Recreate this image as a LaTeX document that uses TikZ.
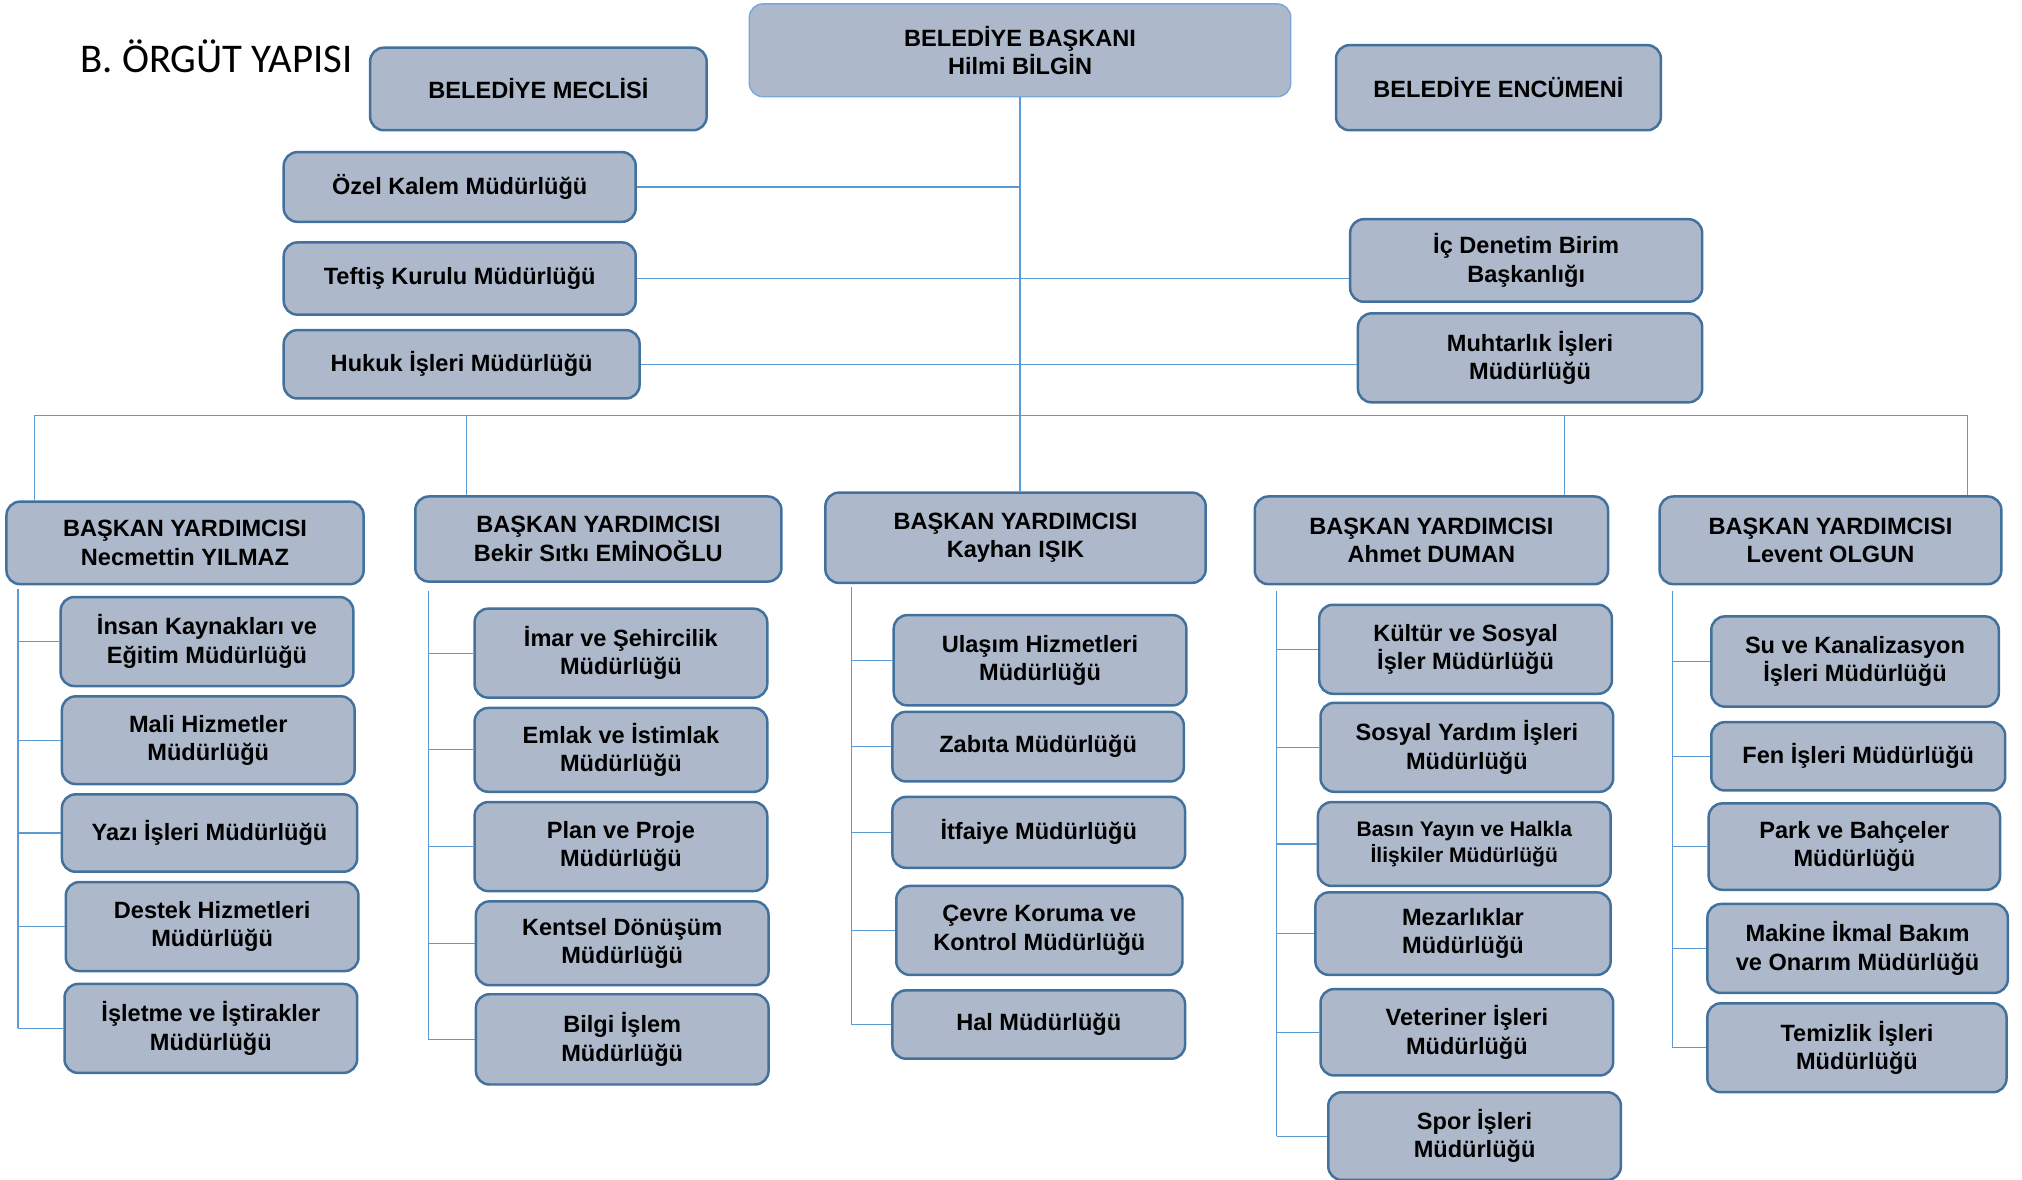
\documentclass[tikz,border=0pt]{standalone}
\usepackage{fontspec}
\setmainfont{Liberation Sans}
\newfontfamily\titlefont{Carlito}
\definecolor{boxfill}{HTML}{ADB9CA}
\definecolor{boxline}{HTML}{41719C}
\definecolor{headline}{HTML}{7AA6D8}
\definecolor{linkline}{HTML}{5B9BD5}
\begin{document}
\begin{tikzpicture}[x=0.02cm, y=-0.02cm,
    unit/.style={draw=boxline, line width=1.1pt, fill=boxfill, rounded corners=6pt,
        align=center, inner sep=0pt, minimum width=4.54cm, minimum height=1.38cm,
        font=\bfseries\fontsize{10.4}{12.5}\selectfont},
    link/.style={draw=linkline, line width=0.5pt}]
    \useasboundingbox (0,0) rectangle (1568,915);

    \node[font=\titlefont\fontsize{18}{20}\selectfont] (title) at (168,44) {B. ÖRGÜT YAPISI};

    \node[unit, minimum width=8.4cm, minimum height=1.44cm, draw=headline, line width=0.6pt] (pres) at (791,39) {BELEDİYE BAŞKANI\\Hilmi BİLGİN};
    \node[unit, minimum width=5.22cm, minimum height=1.28cm] (meclis) at (417.5,69) {BELEDİYE MECLİSİ};
    \node[unit, minimum width=5.04cm, minimum height=1.32cm] (encumen) at (1162,68) {BELEDİYE ENCÜMENİ};

    \node[unit, minimum width=5.46cm, minimum height=1.08cm] (ozel) at (356.5,145) {Özel Kalem Müdürlüğü};
    \node[unit, minimum width=5.46cm, minimum height=1.12cm] (teftis) at (356.5,216) {Teftiş Kurulu Müdürlüğü};
    \node[unit, minimum width=5.52cm, minimum height=1.06cm] (hukuk) at (358,282.5) {Hukuk İşleri Müdürlüğü};
    \node[unit, minimum width=5.46cm, minimum height=1.28cm] (icdenetim) at (1183.5,202) {İç Denetim Birim\\Başkanlığı};
    \node[unit, minimum width=5.34cm, minimum height=1.38cm] (muhtarlik) at (1186.5,277.5) {Muhtarlık İşleri\\Müdürlüğü};

    \node[unit, minimum width=5.54cm, minimum height=1.28cm] (by1) at (143.5,421) {BAŞKAN YARDIMCISI\\Necmettin YILMAZ};
    \node[unit, minimum width=5.68cm, minimum height=1.32cm] (by2) at (464,418) {BAŞKAN YARDIMCISI\\Bekir Sıtkı EMİNOĞLU};
    \node[unit, minimum width=5.9cm, minimum height=1.4cm] (by3) at (787.5,417) {BAŞKAN YARDIMCISI\\Kayhan IŞIK};
    \node[unit, minimum width=5.48cm, minimum height=1.36cm] (by4) at (1110,419) {BAŞKAN YARDIMCISI\\Ahmet DUMAN};
    \node[unit, minimum width=5.3cm, minimum height=1.36cm] (by5) at (1419.5,419) {BAŞKAN YARDIMCISI\\Levent OLGUN};

    \draw[link] (pres.south) -- (by3.north -| pres.south);
    \draw[link] (ozel.east) -- (ozel.east -| pres.south);
    \draw[link] (teftis.east) -- (teftis.east -| icdenetim.west);
    \draw[link] (hukuk.east) -- (hukuk.east -| muhtarlik.west);

    \coordinate (bus1) at (27,322);
    \coordinate (bus2) at (362,322);
    \coordinate (bus4) at (1213,322);
    \coordinate (bus5) at (1526,322);
    \draw[link] (bus1 |- by1.north) -- (bus1) -- (bus5) -- (bus5 |- by5.north);
    \draw[link] (bus2) -- (bus2 |- by2.north);
    \draw[link] (bus4) -- (bus4 |- by4.north);

    \node[unit, minimum height=1.38cm] (a1) at (160.5,497.5) {İnsan Kaynakları ve\\Eğitim Müdürlüğü};
    \node[unit, minimum height=1.36cm] (a2) at (161.5,574) {Mali Hizmetler\\Müdürlüğü};
    \node[unit, minimum width=4.58cm, minimum height=1.2cm] (a3) at (162.5,646) {Yazı İşleri Müdürlüğü};
    \node[unit, minimum height=1.38cm] (a4) at (164.5,718.5) {Destek Hizmetleri\\Müdürlüğü};
    \node[unit, minimum height=1.38cm] (a5) at (163.5,797.5) {İşletme ve İştirakler\\Müdürlüğü};

    \node[unit, minimum height=1.38cm] (b1) at (481.5,506.5) {İmar ve Şehircilik\\Müdürlüğü};
    \node[unit, minimum height=1.3cm] (b2) at (481.5,581.5) {Emlak ve İstimlak\\Müdürlüğü};
    \node[unit, minimum height=1.38cm] (b3) at (481.5,656.5) {Plan ve Proje\\Müdürlüğü};
    \node[unit, minimum height=1.3cm] (b4) at (482.5,731.5) {Kentsel Dönüşüm\\Müdürlüğü};
    \node[unit, minimum height=1.4cm] (b5) at (482.5,806) {Bilgi İşlem\\Müdürlüğü};

    \node[unit, minimum height=1.4cm] (c1) at (806.5,512) {Ulaşım Hizmetleri\\Müdürlüğü};
    \node[unit, minimum width=4.52cm, minimum height=1.08cm] (c2) at (805,579) {Zabıta Müdürlüğü};
    \node[unit, minimum height=1.1cm] (c3) at (805.5,645.5) {İtfaiye Müdürlüğü};
    \node[unit, minimum width=4.44cm, minimum height=1.38cm] (c4) at (806,721.5) {Çevre Koruma ve\\Kontrol Müdürlüğü};
    \node[unit, minimum height=1.06cm] (c5) at (805.5,794.5) {Hal Müdürlüğü};

    \node[unit, minimum height=1.38cm] (d1) at (1136.5,503.5) {Kültür ve Sosyal\\İşler Müdürlüğü};
    \node[unit, minimum height=1.38cm] (d2) at (1137.5,579.5) {Sosyal Yardım İşleri\\Müdürlüğü};
    \node[unit, minimum height=1.3cm, font=\bfseries\fontsize{9.3}{11.2}\selectfont] (d3) at (1135.5,654.5) {Basın Yayın ve Halkla\\İlişkiler Müdürlüğü};
    \node[unit, minimum width=4.58cm, minimum height=1.28cm] (d4) at (1134.5,724) {Mezarlıklar\\Müdürlüğü};
    \node[unit, minimum height=1.34cm] (d5) at (1137.5,800.5) {Veteriner İşleri\\Müdürlüğü};
    \node[unit, minimum height=1.36cm] (d6) at (1143.5,881) {Spor İşleri\\Müdürlüğü};

    \node[unit, minimum width=4.46cm, minimum height=1.4cm] (e1) at (1438.5,513) {Su ve Kanalizasyon\\İşleri Müdürlüğü};
    \node[unit, minimum width=4.56cm, minimum height=1.06cm] (e2) at (1441,586.5) {Fen İşleri Müdürlüğü};
    \node[unit, minimum width=4.52cm, minimum height=1.34cm] (e3) at (1438,656.5) {Park ve Bahçeler\\Müdürlüğü};
    \node[unit, minimum width=4.66cm, minimum height=1.38cm] (e4) at (1440.5,735.5) {Makine İkmal Bakım\\ve Onarım Müdürlüğü};
    \node[unit, minimum width=4.64cm, minimum height=1.38cm] (e5) at (1440,812.5) {Temizlik İşleri\\Müdürlüğü};

    \coordinate (s1) at (14,457);
    \coordinate (s2) at (332,458);
    \coordinate (s3) at (660,455);
    \coordinate (s4) at (990,458);
    \coordinate (s5) at (1297,458);
    \draw[link] (s1) -- (s1 |- a5.west);
    \draw[link] (s2) -- (s2 |- b5.west);
    \draw[link] (s3) -- (s3 |- c5.west);
    \draw[link] (s4) -- (s4 |- d6.west);
    \draw[link] (s5) -- (s5 |- e5.west);
    \foreach \n in {a1,a2,a3,a4,a5} \draw[link] (s1 |- \n.west) -- (\n.west);
    \foreach \n in {b1,b2,b3,b4,b5} \draw[link] (s2 |- \n.west) -- (\n.west);
    \foreach \n in {c1,c2,c3,c4,c5} \draw[link] (s3 |- \n.west) -- (\n.west);
    \foreach \n in {d1,d2,d3,d4,d5,d6} \draw[link] (s4 |- \n.west) -- (\n.west);
    \foreach \n in {e1,e2,e3,e4,e5} \draw[link] (s5 |- \n.west) -- (\n.west);
\end{tikzpicture}
\end{document}
